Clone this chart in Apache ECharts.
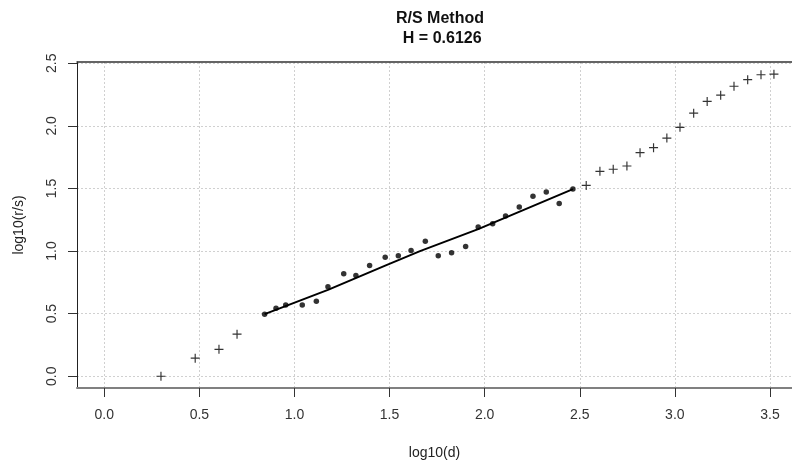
<!DOCTYPE html>
<html>
<head>
<meta charset="utf-8">
<script src="https://cdn.jsdelivr.net/npm/echarts@6/dist/echarts.min.js"></script>
<style>
html,body{margin:0;padding:0;background:#fff;}
#chart{width:792px;height:465px;}
</style>
</head>
<body>
<div id="chart"></div>
<script>
// Excluded points (crosses), lower tail
const lowX = [0.298, 0.478, 0.603, 0.698];
const lowY = [0.000, 0.144, 0.215, 0.336];
// Fitted points (dots)
const fitX = [0.843, 0.903, 0.954, 1.041, 1.115, 1.176, 1.259, 1.323, 1.395, 1.477, 1.546, 1.613, 1.688, 1.756, 1.826, 1.900, 1.966, 2.042, 2.110, 2.182, 2.254, 2.324, 2.392, 2.464];
const fitY = [0.496, 0.543, 0.569, 0.569, 0.598, 0.714, 0.818, 0.805, 0.884, 0.950, 0.963, 1.005, 1.078, 0.963, 0.986, 1.036, 1.193, 1.217, 1.280, 1.351, 1.437, 1.472, 1.380, 1.495];
// Excluded points (crosses), upper tail
const highX = [2.534, 2.606, 2.676, 2.748, 2.817, 2.888, 2.958, 3.027, 3.099, 3.170, 3.241, 3.311, 3.383, 3.453, 3.521];
const highY = [1.524, 1.637, 1.653, 1.679, 1.786, 1.826, 1.902, 1.988, 2.101, 2.195, 2.245, 2.316, 2.369, 2.408, 2.413];
// Regression line as drawn
const lineX = [0.843, 1.176, 1.477, 1.660, 1.966, 2.464];
const lineY = [0.496, 0.690, 0.884, 0.999, 1.175, 1.495];
// Tick labels
const xTicks = [0.0, 0.5, 1.0, 1.5, 2.0, 2.5, 3.0, 3.5];
const yTicks = [0.0, 0.5, 1.0, 1.5, 2.0, 2.5];
const titleText = 'R/S Method';
const subText = ' H = 0.6126';

const zip = (a, b) => a.map((v, i) => [v, b[i]]);
const crossPath = 'path://M4.35,0H5.65V4.35H10V5.65H5.65V10H4.35V5.65H0V4.35H4.35Z';
const font = '"Liberation Sans", Arial, sans-serif';

const chart = echarts.init(document.getElementById('chart'), null, {renderer: 'canvas'});
const gridLine = {show: true, lineStyle: {color: '#d0d0d0', type: [2, 2], width: 1}};

chart.setOption({
  animation: false,
  backgroundColor: '#fff',
  title: {
    text: titleText + '\n' + subText,
    left: 435, top: 4, textAlign: 'center',
    textStyle: {fontFamily: font, fontSize: 16, fontWeight: 'bold', color: '#111', lineHeight: 20}
  },
  grid: {left: 77, right: 0, top: 62, bottom: 72, containLabel: false},
  xAxis: [{
    type: 'value', min: -0.1435, max: 3.616, position: 'bottom',
    name: 'log10(d)', nameLocation: 'middle', nameGap: 58,
    nameTextStyle: {fontFamily: font, fontSize: 14, color: '#222'},
    axisLine: {show: true, onZero: false, lineStyle: {color: '#808080', width: 2}},
    axisTick: {show: true, length: 9, customValues: xTicks, lineStyle: {color: '#333'}},
    axisLabel: {customValues: xTicks, margin: 20, fontFamily: font, fontSize: 14, color: '#333',
      formatter: v => v.toFixed(1)},
    splitLine: gridLine
  }, {
    type: 'value', min: -0.1435, max: 3.616, position: 'top',
    axisLine: {show: true, onZero: false, lineStyle: {color: '#333', width: 1.5}},
    axisTick: {show: false}, axisLabel: {show: false}, splitLine: {show: false}
  }],
  yAxis: {
    type: 'value', min: -0.094, max: 2.510,
    name: 'log10(r/s)', nameLocation: 'middle', nameGap: 51,
    nameTextStyle: {fontFamily: font, fontSize: 14, color: '#222'},
    axisLine: {show: true, onZero: false, lineStyle: {color: '#222', width: 1}},
    axisTick: {show: true, length: 9, customValues: yTicks, lineStyle: {color: '#333'}},
    axisLabel: {customValues: yTicks, rotate: 90, margin: 18, fontFamily: font, fontSize: 14, color: '#333',
      formatter: v => v.toFixed(1)},
    splitLine: gridLine
  },
  series: [
    {type: 'scatter', data: zip(lowX, lowY), symbol: crossPath, symbolSize: 9,
      itemStyle: {color: '#000'}},
    {type: 'scatter', data: zip(highX, highY), symbol: crossPath, symbolSize: 9,
      itemStyle: {color: '#000'}},
    {type: 'line', data: zip(lineX, lineY), showSymbol: false, symbol: 'none',
      lineStyle: {color: '#000', width: 2}},
    {type: 'scatter', data: zip(fitX, fitY), symbol: 'circle', symbolSize: 5.5,
      itemStyle: {color: '#000'}}
  ]
});
</script>
</body>
</html>
